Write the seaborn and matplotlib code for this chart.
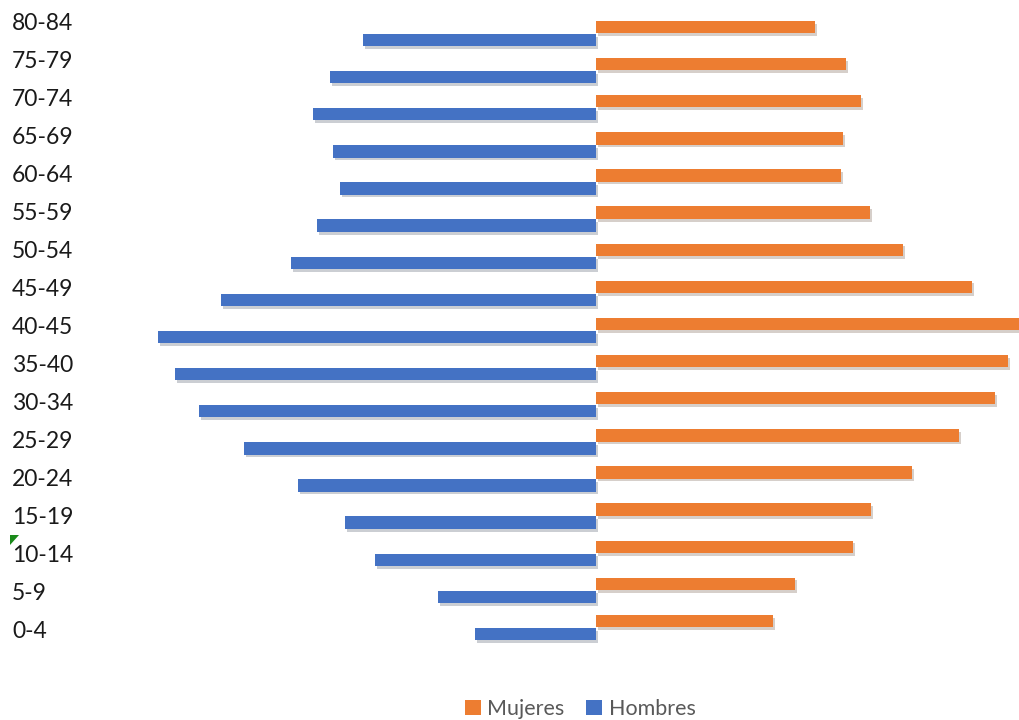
import matplotlib
matplotlib.use("Agg")
import matplotlib.pyplot as plt
import matplotlib.patheffects as pe
from matplotlib.patches import Polygon, Patch
import seaborn as sns
import pandas as pd

age_groups = ["80-84", "75-79", "70-74", "65-69", "60-64", "55-59", "50-54", "45-49",
              "40-45", "35-40", "30-34", "25-29", "20-24", "15-19", "10-14", "5-9", "0-4"]
mujeres = [219, 250, 265, 247, 245, 274, 307, 376, 423, 412, 399, 363, 316, 275, 257, 199, 177]
hombres = [233, 266, 283, 263, 256, 279, 305, 375, 438, 421, 397, 352, 298, 251, 221, 158, 121]

series_names = ["Mujeres", "Hombres"]
colors = {"Mujeres": "#ED7D31", "Hombres": "#4472C4"}

df = pd.DataFrame({
    "grupo": age_groups * 2,
    "valor": mujeres + [-v for v in hombres],
    "sexo": ["Mujeres"] * len(age_groups) + ["Hombres"] * len(age_groups),
})

sns.set_theme(style="white")
plt.rcParams["font.family"] = ["Lato", "DejaVu Sans"]

fig = plt.figure(figsize=(10.19, 7.2), dpi=100)
ax = fig.add_axes([150 / 1019, 1 - 646 / 720, 869 / 1019, 631 / 720])

sns.barplot(data=df, y="grupo", x="valor", hue="sexo", order=age_groups,
            hue_order=series_names, palette=colors, orient="h", width=0.7,
            gap=0.05, ax=ax, legend=False, saturation=1, linewidth=0)

for p in ax.patches:
    p.set_edgecolor("none")
    p.set_linewidth(0)
    p.set_path_effects([pe.SimplePatchShadow(offset=(1.5, -2), alpha=0.22), pe.Normal()])

ax.set_xlim(-446, 423)
ax.set_ylim(16.5, -0.5)
ax.set_xlabel("")
ax.set_ylabel("")
ax.set_xticks([])
ax.set_yticks([])
for s in ax.spines.values():
    s.set_visible(False)

# category labels axis (labels spaced slightly differently than bars, as in reference)
lab_ax = fig.add_axes([150 / 1019, 1 - 649 / 720, 869 / 1019, 646 / 720], frameon=False)
lab_ax.set_ylim(len(age_groups) - 0.5, -0.5)
lab_ax.set_xticks([])
lab_ax.set_yticks(range(len(age_groups)))
lab_ax.set_yticklabels(age_groups)
lab_ax.tick_params(axis="y", length=0, pad=138 * 0.72, labelsize=16.5, labelcolor="#1a1a1a")
for lbl in lab_ax.get_yticklabels():
    lbl.set_horizontalalignment("left")
lab_ax.patch.set_alpha(0)

# small green marker near 10-14 label
fig.patches.append(Polygon([[10 / 1019, 1 - 535 / 720], [19 / 1019, 1 - 535 / 720],
                            [10 / 1019, 1 - 545 / 720]], closed=True,
                           transform=fig.transFigure, facecolor="#1a8a1a", edgecolor="none"))

handles = [Patch(facecolor=colors[n], edgecolor="none", label=n) for n in series_names]
fig.legend(handles=handles, loc="center", bbox_to_anchor=(580 / 1019, 1 - 709 / 720),
           ncol=2, frameon=False, fontsize=15.5, labelcolor="#595959",
           handlelength=0.75, handleheight=0.75, handletextpad=0.3, columnspacing=1.0)

fig.savefig("out.png", dpi=100)
